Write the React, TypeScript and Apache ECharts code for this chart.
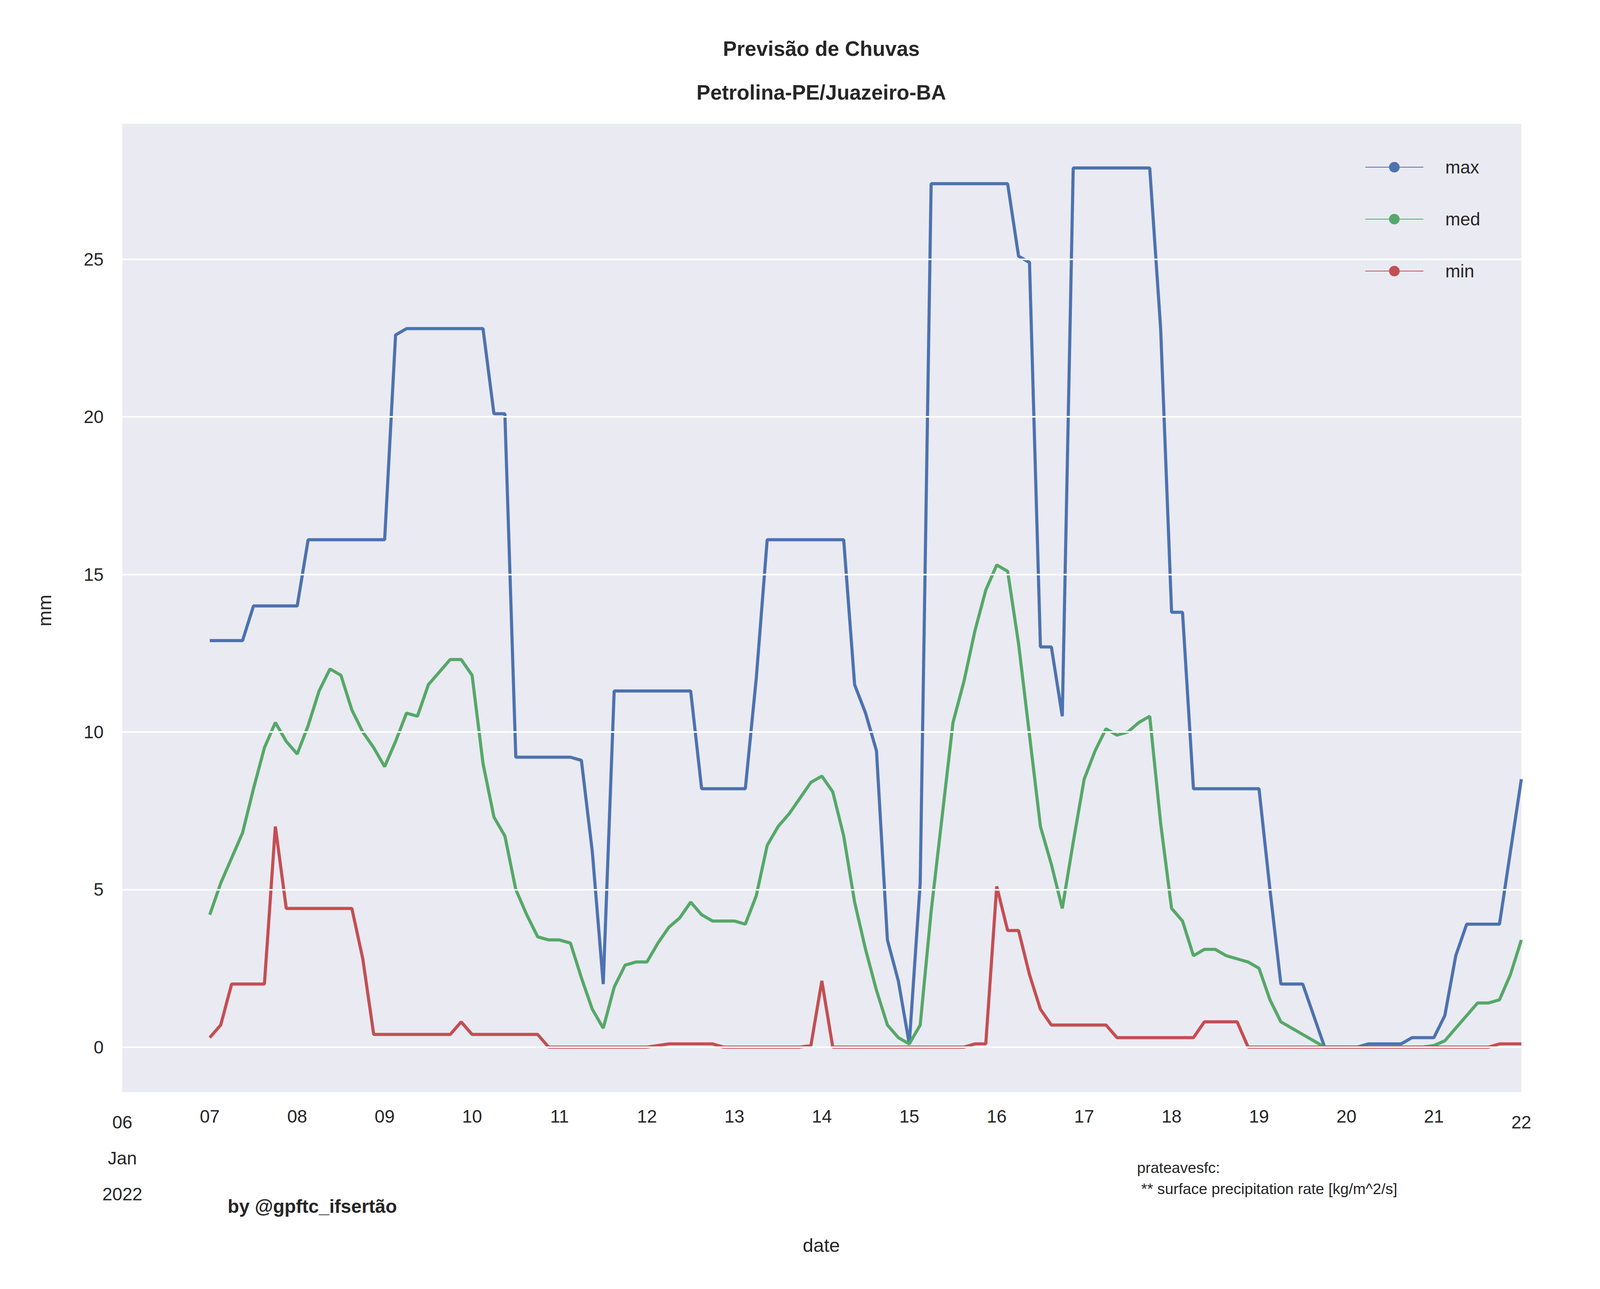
import * as echarts from "echarts";
import { useEffect, useRef } from "react";

// 3-hourly steps from 07 Jan 00h to 22 Jan 00h
const maxValues = [
  12.9, 12.9, 12.9, 12.9, 14.0, 14.0, 14.0, 14.0, 14.0, 16.1, 16.1, 16.1, 16.1, 16.1, 16.1, 16.1,
  16.1, 22.6, 22.8, 22.8, 22.8, 22.8, 22.8, 22.8, 22.8, 22.8, 20.1, 20.1, 9.2, 9.2, 9.2, 9.2,
  9.2, 9.2, 9.1, 6.2, 2.0, 11.3, 11.3, 11.3, 11.3, 11.3, 11.3, 11.3, 11.3, 8.2, 8.2, 8.2,
  8.2, 8.2, 11.7, 16.1, 16.1, 16.1, 16.1, 16.1, 16.1, 16.1, 16.1, 11.5, 10.6, 9.4, 3.4, 2.1,
  0.1, 5.2, 27.4, 27.4, 27.4, 27.4, 27.4, 27.4, 27.4, 27.4, 25.1, 24.9, 12.7, 12.7, 10.5, 27.9,
  27.9, 27.9, 27.9, 27.9, 27.9, 27.9, 27.9, 22.8, 13.8, 13.8, 8.2, 8.2, 8.2, 8.2, 8.2, 8.2,
  8.2, 5.0, 2.0, 2.0, 2.0, 1.0, 0, 0, 0, 0, 0.1, 0.1, 0.1, 0.1, 0.3, 0.3,
  0.3, 1.0, 2.9, 3.9, 3.9, 3.9, 3.9, 6.2, 8.5,
];
const medValues = [
  4.2, 5.2, 6.0, 6.8, 8.2, 9.5, 10.3, 9.7, 9.3, 10.2, 11.3, 12.0, 11.8, 10.7, 10.0, 9.5,
  8.9, 9.7, 10.6, 10.5, 11.5, 11.9, 12.3, 12.3, 11.8, 9.0, 7.3, 6.7, 5.0, 4.2, 3.5, 3.4,
  3.4, 3.3, 2.2, 1.2, 0.6, 1.9, 2.6, 2.7, 2.7, 3.3, 3.8, 4.1, 4.6, 4.2, 4.0, 4.0,
  4.0, 3.9, 4.8, 6.4, 7.0, 7.4, 7.9, 8.4, 8.6, 8.1, 6.7, 4.6, 3.1, 1.8, 0.7, 0.3,
  0.1, 0.7, 4.3, 7.3, 10.3, 11.6, 13.2, 14.5, 15.3, 15.1, 12.8, 9.9, 7.0, 5.8, 4.4, 6.5,
  8.5, 9.4, 10.1, 9.9, 10.0, 10.3, 10.5, 7.1, 4.4, 4.0, 2.9, 3.1, 3.1, 2.9, 2.8, 2.7,
  2.5, 1.5, 0.8, 0.6, 0.4, 0.2, 0, 0, 0, 0, 0, 0, 0, 0, 0, 0,
  0.05, 0.2, 0.6, 1.0, 1.4, 1.4, 1.5, 2.3, 3.4,
];
const minValues = [
  0.3, 0.7, 2.0, 2.0, 2.0, 2.0, 7.0, 4.4, 4.4, 4.4, 4.4, 4.4, 4.4, 4.4, 2.8, 0.4,
  0.4, 0.4, 0.4, 0.4, 0.4, 0.4, 0.4, 0.8, 0.4, 0.4, 0.4, 0.4, 0.4, 0.4, 0.4, 0,
  0, 0, 0, 0, 0, 0, 0, 0, 0, 0.05, 0.1, 0.1, 0.1, 0.1, 0.1, 0,
  0, 0, 0, 0, 0, 0, 0, 0.05, 2.1, 0, 0, 0, 0, 0, 0, 0,
  0, 0, 0, 0, 0, 0, 0.1, 0.1, 5.1, 3.7, 3.7, 2.3, 1.2, 0.7, 0.7, 0.7,
  0.7, 0.7, 0.7, 0.3, 0.3, 0.3, 0.3, 0.3, 0.3, 0.3, 0.3, 0.8, 0.8, 0.8, 0.8, 0,
  0, 0, 0, 0, 0, 0, 0, 0, 0, 0, 0, 0, 0, 0, 0, 0,
  0, 0, 0, 0, 0, 0, 0.1, 0.1, 0.1,
];
const yTicks = [0, 5, 10, 15, 20, 25];
const dayLabels = ["06", "07", "08", "09", "10", "11", "12", "13", "14", "15", "16", "17", "18", "19", "20", "21", "22"];

const FONT = "Liberation Sans";
const INK = "#262626";

// hours since 06 Jan 00h
const pairs = (vals: number[]) => vals.map((v, i) => [24 + 3 * i, v]);

export default function App() {
  const ref = useRef<HTMLDivElement>(null);

  useEffect(() => {
    if (!ref.current) return;
    const W = window.innerWidth;
    const H = window.innerHeight;
    const sx = W / 4800;
    const sy = H / 3300;
    const X = (v: number) => v * sx;
    const Y = (v: number) => v * sy;
    const F = (v: number) => Math.round(v * Math.min(sx, sy));

    const chart = echarts.init(ref.current, undefined, { renderer: "svg", width: W, height: H });

    const line = (name: string, color: string, vals: number[]) => ({
      name,
      type: "line",
      symbol: "none",
      z: 3,
      data: pairs(vals),
      lineStyle: { color, width: F(9) },
      itemStyle: { color },
    });

    const gl = X(367), gr = X(236), gt = Y(317), gb = Y(504);

    chart.setOption({
      animation: false,
      backgroundColor: "#ffffff",
      textStyle: { fontFamily: FONT },
      grid: { left: gl, right: gr, top: gt, bottom: gb },
      legend: {
        orient: "vertical",
        left: X(4089),
        top: Y(400),
        itemWidth: X(174),
        itemHeight: Y(34),
        itemGap: Y(87),
        data: ["max", "med", "min"],
        textStyle: { fontFamily: FONT, fontSize: F(54), color: INK, padding: [0, 0, 0, X(60)] },
      },
      xAxis: {
        type: "value",
        min: 0,
        max: 384,
        interval: 24,
        axisLine: { show: false },
        axisTick: { show: false },
        splitLine: { show: false },
        axisLabel: {
          margin: Y(16),
          color: INK,
          fontFamily: FONT,
          fontSize: F(54),
          lineHeight: Y(92),
          formatter: (v: number) => {
            const d = dayLabels[Math.round(v / 24)];
            if (v === 0) return "{e|06}\n{e|Jan}\n{e|2022}";
            if (v === 384) return "{e|" + d + "}";
            return d;
          },
          rich: {
            e: { fontFamily: FONT, fontSize: F(54), color: INK, lineHeight: Y(92), padding: [Y(30), 0, 0, 0] },
          },
        },
      },
      yAxis: {
        type: "value",
        min: -1.43,
        max: 29.3,
        axisLine: { show: false },
        axisTick: { show: false },
        splitLine: { show: false },
        axisLabel: {
          customValues: yTicks,
          margin: X(56),
          color: INK,
          fontFamily: FONT,
          fontSize: F(54),
        },
      },
      graphic: [
        {
          type: "rect",
          shape: { x: gl, y: gt, width: W - gl - gr, height: H - gt - gb },
          style: { fill: "#EAEAF2" },
          z: -10,
          silent: true,
        },
        {
          type: "text",
          x: X(2464),
          y: Y(124),
          style: { text: "Previsão de Chuvas", font: `bold ${F(62)}px "${FONT}"`, fill: INK, align: "center", verticalAlign: "middle" },
        },
        {
          type: "text",
          x: X(2464),
          y: Y(236),
          style: { text: "Petrolina-PE/Juazeiro-BA", font: `bold ${F(62)}px "${FONT}"`, fill: INK, align: "center", verticalAlign: "middle" },
        },
        {
          type: "text",
          x: X(134),
          y: Y(1563),
          rotation: Math.PI / 2,
          style: { text: "mm", font: `${F(58)}px "${FONT}"`, fill: INK, align: "center", verticalAlign: "middle" },
        },
        {
          type: "text",
          x: X(2464),
          y: Y(3188),
          style: { text: "date", font: `${F(58)}px "${FONT}"`, fill: INK, align: "center", verticalAlign: "middle" },
        },
        {
          type: "text",
          x: X(683),
          y: Y(3088),
          style: { text: "by @gpftc_ifsertão", font: `bold ${F(56)}px "${FONT}"`, fill: INK, verticalAlign: "middle" },
        },
        {
          type: "text",
          x: X(3411),
          y: Y(2962),
          style: {
            text: "prateavesfc:\n ** surface precipitation rate [kg/m^2/s]",
            font: `${F(46)}px "${FONT}"`,
            lineHeight: Y(54),
            fill: INK,
          },
        },
      ],
      series: [
        {
          name: "grid",
          type: "line",
          data: [],
          z: 1,
          silent: true,
          markLine: {
            silent: true,
            symbol: "none",
            label: { show: false },
            lineStyle: { color: "#ffffff", width: F(5), type: "solid" },
            data: yTicks.map((v) => ({ yAxis: v })),
          },
        },
        line("max", "#4C72B0", maxValues),
        line("med", "#55A868", medValues),
        line("min", "#C44E52", minValues),
      ],
    });

    return () => chart.dispose();
  }, []);

  return (
    <div
      ref={ref}
      style={{ position: "fixed", left: 0, top: 0, width: "100vw", height: "100vh", background: "#fff" }}
    />
  );
}
